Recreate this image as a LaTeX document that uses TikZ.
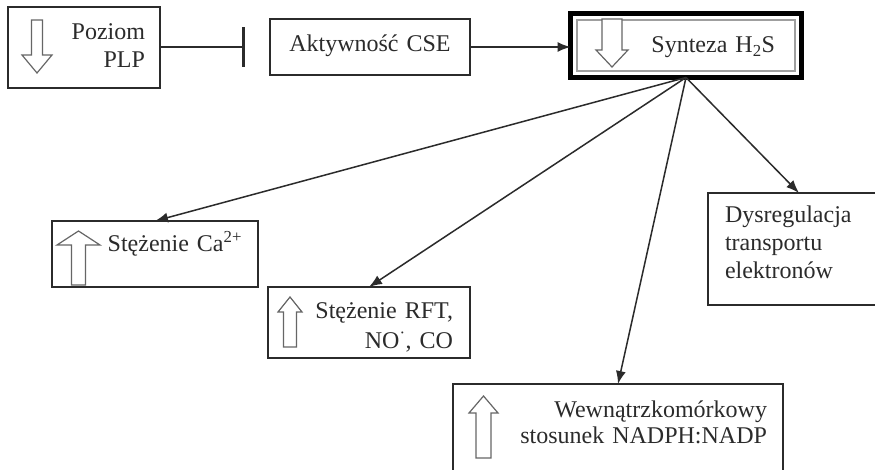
\documentclass[tikz,border=0pt]{standalone}
\usepackage{fontspec}
\setmainfont{Liberation Serif}
\usetikzlibrary{arrows.meta,calc}
\definecolor{ink}{HTML}{2B2B2B}
\tikzset{
  box/.style={draw=ink, line width=1.2pt, inner ysep=0pt, outer sep=0pt, text=ink,
    font=\fontsize{24}{28}\selectfont},
  hollow/.style={draw=black!60, line width=1.2pt, fill=white, line join=miter},
  conn/.style={draw=ink, line width=1.5pt, -{Latex[length=13pt,width=10pt]}},
  pics/fatarrow/.style n args={4}{code={
    \draw[hollow] (-#3/2,0) -- (-#3/2,-#1+#4) -- (-#2/2,-#1+#4) -- (0,-#1)
      -- (#2/2,-#1+#4) -- (#3/2,-#1+#4) -- (#3/2,0) -- cycle;
  }},
}
\begin{document}
\begin{tikzpicture}[x=1pt,y=-1pt]
  \useasboundingbox[fill=white] (0,0) rectangle (875,470);
  \node[box, anchor=north west, inner xsep=15pt, text width=122pt, align=right,
    text height=33pt, text depth=48pt] (plp) at (8,7) {Poziom\\PLP};
  \node[box, anchor=north west, inner xsep=0pt, text width=200pt, align=center,
    text height=33pt, text depth=23pt] (cse) at (270,19) {Aktywność CSE};
  \node[box, draw=black, line width=5pt, anchor=north west, inner xsep=26.5pt,
    text width=178pt, align=right, text height=39.5pt, text depth=24.5pt]
    (syn) at (570.5,13.5) {Synteza H\textsubscript{2}S};
  \draw[gray!75, line width=1.5pt] ($(syn.north west)+(6.5,6.5)$) rectangle ($(syn.south east)+(-6.5,-6.5)$);
  \node[box, anchor=north west, inner xsep=16pt, text width=174pt, align=right,
    text height=31pt, text depth=35pt] (ca) at (52,221) {Stężenie Ca\textsuperscript{2+}};
  \node[box, anchor=north west, inner xsep=17pt, text width=168pt, align=right,
    text height=31pt, text depth=40pt] (rft) at (268,287) {Stężenie RFT,\\[2pt]NO\textsuperscript{·}, CO};
  \node[box, anchor=north west, inner xsep=16pt, text width=298pt, align=right,
    text height=33pt, text depth=73pt] (nad) at (453,384) {Wewnątrzkomórkowy\\[-2pt]stosunek NADPH:NADP};
  \node[box, anchor=north west, inner xsep=17pt, text width=148pt, align=left,
    text height=30pt, text depth=82pt] (dys) at (708,193) {Dysregulacja\\transportu\\elektronów};

  \pic[rotate=180] at (37,20) {fatarrow={53}{30}{11}{18}};
  \pic[rotate=180] at (612,19) {fatarrow={48}{32}{20}{17}};
  \pic at (78.5,285) {fatarrow={54}{43}{14}{14}};
  \pic at (290,347) {fatarrow={50}{24}{13}{15}};
  \pic at (483.5,458) {fatarrow={62}{29}{15}{17}};

  \draw[ink, line width=2pt, -{Bar[width=40pt,line width=3pt]}, shorten >=25pt] (plp.east) -- (plp.east -| cse.west);
  \draw[conn] (cse.east) -- (cse.east -| syn.west);
  \draw[conn] (syn.south) -- (ca.north);
  \draw[conn] (syn.south) -- (rft.north);
  \draw[conn] (syn.south) -- (nad.north);
  \draw[conn] (syn.south) -- (dys.north);
\end{tikzpicture}
\end{document}
